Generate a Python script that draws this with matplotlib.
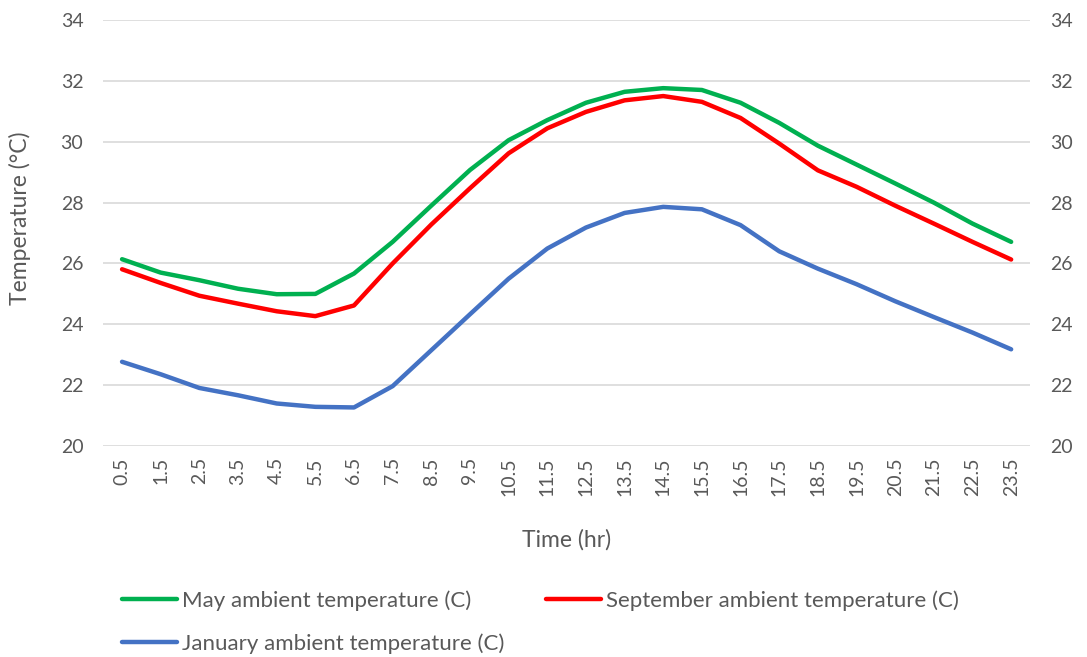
import matplotlib
matplotlib.use("Agg")
import matplotlib.pyplot as plt

hours = ["0.5", "1.5", "2.5", "3.5", "4.5", "5.5", "6.5", "7.5", "8.5", "9.5", "10.5", "11.5",
         "12.5", "13.5", "14.5", "15.5", "16.5", "17.5", "18.5", "19.5", "20.5", "21.5", "22.5", "23.5"]
may = [26.14, 25.70, 25.45, 25.17, 24.99, 25.00, 25.67, 26.71, 27.90, 29.07, 30.05, 30.71,
       31.28, 31.64, 31.76, 31.70, 31.28, 30.62, 29.87, 29.25, 28.63, 28.00, 27.31, 26.71]
september = [25.81, 25.36, 24.94, 24.68, 24.43, 24.27, 24.62, 26.00, 27.28, 28.47, 29.62, 30.44,
             30.98, 31.36, 31.50, 31.31, 30.78, 29.94, 29.06, 28.52, 27.90, 27.31, 26.71, 26.13]
january = [22.77, 22.36, 21.91, 21.67, 21.40, 21.29, 21.27, 21.97, 23.15, 24.33, 25.50, 26.49,
           27.18, 27.66, 27.86, 27.78, 27.26, 26.40, 25.83, 25.32, 24.76, 24.24, 23.73, 23.18]
yticks = [20, 22, 24, 26, 28, 30, 32, 34]

plt.rcParams['font.family'] = ['Lato', 'DejaVu Sans']
txt = '#595959'

fig = plt.figure(figsize=(10.87, 6.57), dpi=100)
ax = fig.add_axes([0.0945, 0.321, 0.8535, 0.6486])

x = list(range(len(hours)))
l_may, = ax.plot(x, may, color='#00B050', lw=3.2, solid_capstyle='round', label='May ambient temperature (C)')
l_sep, = ax.plot(x, september, color='#FF0000', lw=3.2, solid_capstyle='round', label='September ambient temperature (C)')
l_jan, = ax.plot(x, january, color='#4472C4', lw=3.2, solid_capstyle='round', label='January ambient temperature (C)')

ax.set_xlim(-0.5, len(hours) - 0.5)
ax.set_ylim(20, 34)
ax.set_yticks(yticks)
ax.set_xticks(x)
ax.set_xticklabels(hours, rotation=90)
ax.grid(axis='y', color='#D9D9D9', lw=1.2)
ax.set_axisbelow(True)
for s in ax.spines.values():
    s.set_visible(False)
ax.tick_params(axis='both', length=0, labelsize=14, colors=txt, labelright=True, pad=8)
ax.tick_params(axis='y', pad=14)

ax.set_xlabel('Time (hr)', fontsize=16.5, color=txt, labelpad=24)
ax.set_ylabel('Temperature (°C)', fontsize=16.5, color=txt)
ax.yaxis.set_label_coords(-0.077, 0.535)

leg = fig.legend(handles=[l_may, l_jan, l_sep], ncol=2, loc='upper left',
                 frameon=False, fontsize=16,
                 handlelength=2.5, handletextpad=0.22, columnspacing=1.85, labelspacing=1.0,
                 labelcolor=txt, borderaxespad=0, borderpad=0)
leg.set_bbox_to_anchor((0.112, 0.101), transform=fig.transFigure)

fig.savefig('out.png', dpi=100)
